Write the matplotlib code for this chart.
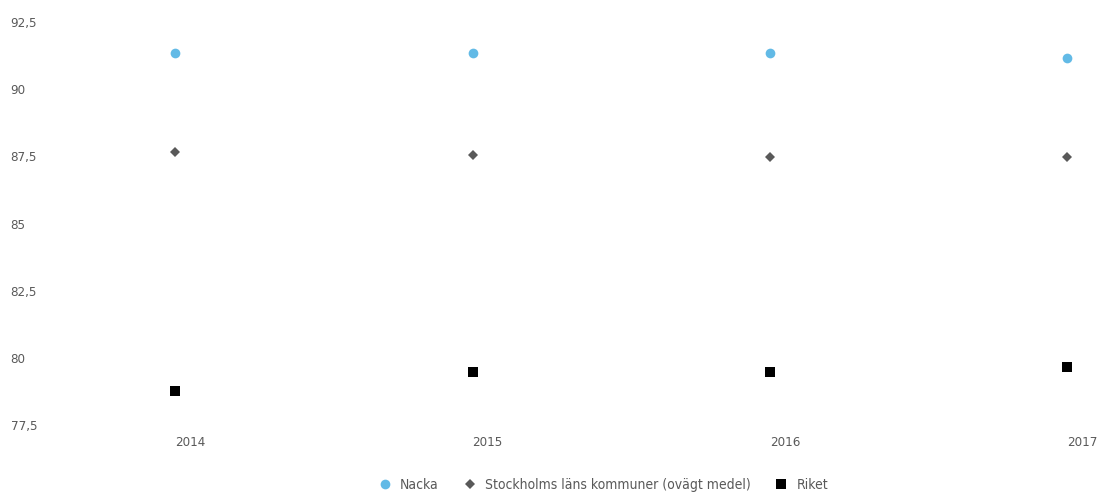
import matplotlib
matplotlib.use("Agg")
import matplotlib.pyplot as plt
import matplotlib.transforms as mtransforms
from matplotlib.lines import Line2D

years = ["2014", "2015", "2016", "2017"]
nacka = [91.35, 91.35, 91.35, 91.15]
stockholm = [87.67, 87.56, 87.48, 87.48]
riket = [78.78, 79.49, 79.49, 79.67]
yticks = [77.5, 80, 82.5, 85, 87.5, 90, 92.5]
ytick_labels = ["77,5", "80", "82,5", "85", "87,5", "90", "92,5"]
series_names = ["Nacka", "Stockholms läns kommuner (ovägt medel)", "Riket"]

plt.rcParams['font.family'] = ['DejaVu Sans']
plt.rcParams['font.stretch'] = 'condensed'
txt = "#595959"

fig = plt.figure(figsize=(10.97, 4.93), dpi=100)
ax = fig.add_axes([26.6/1097, 1 - 425/493, (1097-26.6)/1097, (425-22)/493])
x = list(range(len(years)))
ax.plot(x, nacka, linestyle='none', marker='o', markersize=7, color="#62BAE6", markeredgewidth=0)
ax.plot(x, stockholm, linestyle='none', marker='D', markersize=5, color="#595959", markeredgewidth=0)
ax.plot(x, riket, linestyle='none', marker='s', markersize=7.5, color="#000000", markeredgewidth=0)

ax.set_xlim(-0.5, 3.1)
ax.set_ylim(77.5, 92.5)
ax.set_yticks(yticks)
ax.set_yticklabels(ytick_labels)
ax.set_xticks(x)
ax.set_xticklabels(years)
for s in ax.spines.values():
    s.set_visible(False)
ax.tick_params(axis='both', length=0, colors=txt, labelsize=9.5)
ax.tick_params(axis='y', pad=11.5)
ax.tick_params(axis='x', pad=8)
for lab in ax.get_yticklabels():
    lab.set_ha('left')
offset = mtransforms.ScaledTranslation(15/100, 0, fig.dpi_scale_trans)
for lab in ax.get_xticklabels():
    lab.set_transform(lab.get_transform() + offset)

handles = [
    Line2D([], [], linestyle='none', marker='o', markersize=7, color="#62BAE6", markeredgewidth=0),
    Line2D([], [], linestyle='none', marker='D', markersize=5, color="#595959", markeredgewidth=0),
    Line2D([], [], linestyle='none', marker='s', markersize=7.5, color="#000000", markeredgewidth=0),
]
leg = fig.legend(handles, series_names, loc='center', bbox_to_anchor=(603/1097, 1 - 485/493),
                 ncol=3, frameon=False, fontsize=10, handlelength=1.0, handletextpad=0.6,
                 columnspacing=1.7, labelcolor=txt)

fig.savefig("out.png", dpi=100)
